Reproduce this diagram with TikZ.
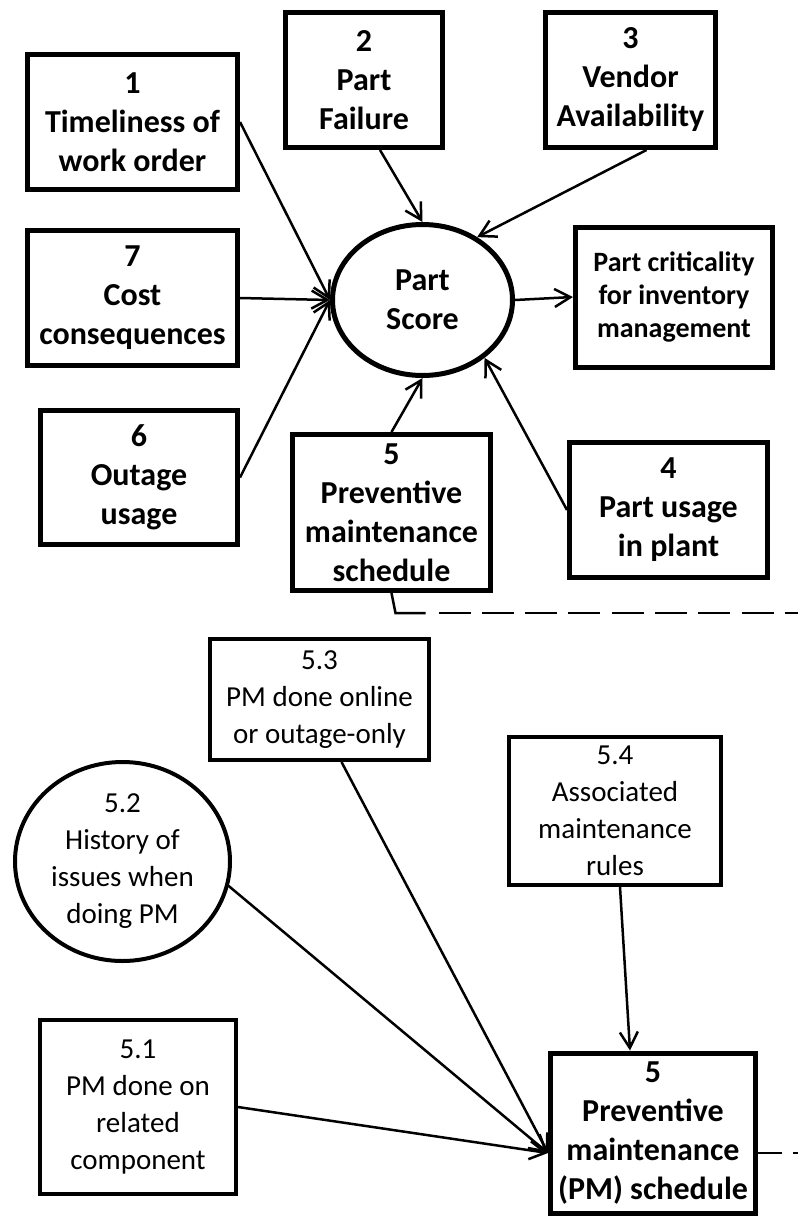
\documentclass[tikz,border=0pt]{standalone}
\usepackage{fontspec}
\setmainfont{Carlito}
\usetikzlibrary{arrows.meta, positioning, shapes.geometric}
\tikzstyle{factor}=[rectangle, draw, line width=2.5pt, align=center, inner sep=0pt, font=\fontsize{16}{19.5}\selectfont\bfseries]
\tikzstyle{hub}=[ellipse, draw, line width=2.5pt, align=center, inner sep=0pt, font=\fontsize{16}{19.5}\selectfont\bfseries]
\tikzstyle{subfactor}=[rectangle, draw, line width=2pt, align=center, inner sep=0pt, font=\fontsize{14.5}{18.5}\selectfont]
\tikzstyle{link}=[line width=1.25pt, -{Straight Barb[length=8pt,width=9pt]}]
\tikzstyle{zoomlink}=[line width=1.25pt, dash pattern=on 16pt off 5.65pt]

\begin{document}
\begin{tikzpicture}[x=0.5pt, y=-0.5pt]
  \useasboundingbox (0,0) rectangle (798,1217);
  % part score and its factors
  \node[hub, minimum width=90pt, minimum height=75.5pt] (score) at (422.5,300) {Part\\Score};
  \node[factor, minimum width=105pt, minimum height=67.5pt] (t1) at (132.5,122) {1\\Timeliness of\\work order};
  \node[factor, minimum width=78.5pt, minimum height=67.5pt] (t2) at (364,80) {2\\Part\\Failure};
  \node[factor, minimum width=85pt, minimum height=67.5pt] (t3) at (630.5,80) {3\\Vendor\\Availability};
  \node[factor, minimum width=105pt, minimum height=67.5pt] (t7) at (132.5,298) {7\\Cost\\consequences};
  \node[factor, minimum width=98.5pt, minimum height=70pt, font=\fontsize{14}{16.5}\selectfont\bfseries] (crit) at (674,297) {Part criticality\\for inventory\\management};
  \node[factor, minimum width=98.5pt, minimum height=67pt] (t6) at (139,477.5) {6\\Outage\\usage};
  \node[factor, minimum width=99pt, minimum height=78pt] (t5) at (391.5,512.5) {5\\Preventive\\maintenance\\schedule};
  \node[factor, minimum width=99pt, minimum height=67.5pt] (t4) at (668.5,510) {4\\Part usage\\in plant};

  \draw[link] (t1.east) -- (score.west);
  \draw[link] (t7.east) -- (score.west);
  \draw[link] (t6.east) -- (score.west);
  \draw[link] ([xshift=8pt]t2.south) -- (score.north);
  \draw[link] ([xshift=8pt]t3.south) -- (score.49);
  \draw[link] (t5.north) -- (score.south);
  \draw[link] (t4.west) -- (score.-43);
  \draw[link] (score.east) -- (crit.west);

  % detail of factor 5
  \node[subfactor, minimum width=109.5pt, minimum height=60.5pt] (s53) at (319.5,699.5) {5.3\\PM done online\\or outage-only};
  \node[subfactor, ellipse, minimum width=107.5pt, minimum height=99.5pt] (s52) at (122.5,861.5) {5.2\\History of\\issues when\\doing PM};
  \node[subfactor, minimum width=106pt, minimum height=74pt] (s54) at (615,811) {5.4\\Associated\\maintenance\\rules};
  \node[subfactor, minimum width=98pt, minimum height=87pt] (s51) at (138,1107) {5.1\\PM done on\\related\\component};
  \node[factor, minimum width=102.5pt, minimum height=80pt] (p5) at (653,1133) {5\\Preventive\\maintenance\\(PM) schedule};

  \draw[link] (s51.east) -- ([yshift=-10pt]p5.west);
  \draw[link] (s52.-13) -- ([yshift=-10pt]p5.west);
  \draw[link] ([xshift=11pt]s53.south) -- ([yshift=-10pt]p5.west);
  \draw[link] ([xshift=2.5pt]s54.south) -- ([xshift=-11.5pt]p5.north);

  % dashed link between the two views
  \coordinate (cuttop) at (798,613);
  \coordinate (cutbot) at (798,1153);
  \draw[line width=1.25pt] (t5.south) -- ++(4,20) coordinate (bend) -- ++(30,0);
  \draw[zoomlink] ([xshift=21.5pt]bend) -- (cuttop);
  \draw[zoomlink, dash phase=4pt] ([yshift=-10pt]p5.east) -- (cutbot);
\end{tikzpicture}
\end{document}
